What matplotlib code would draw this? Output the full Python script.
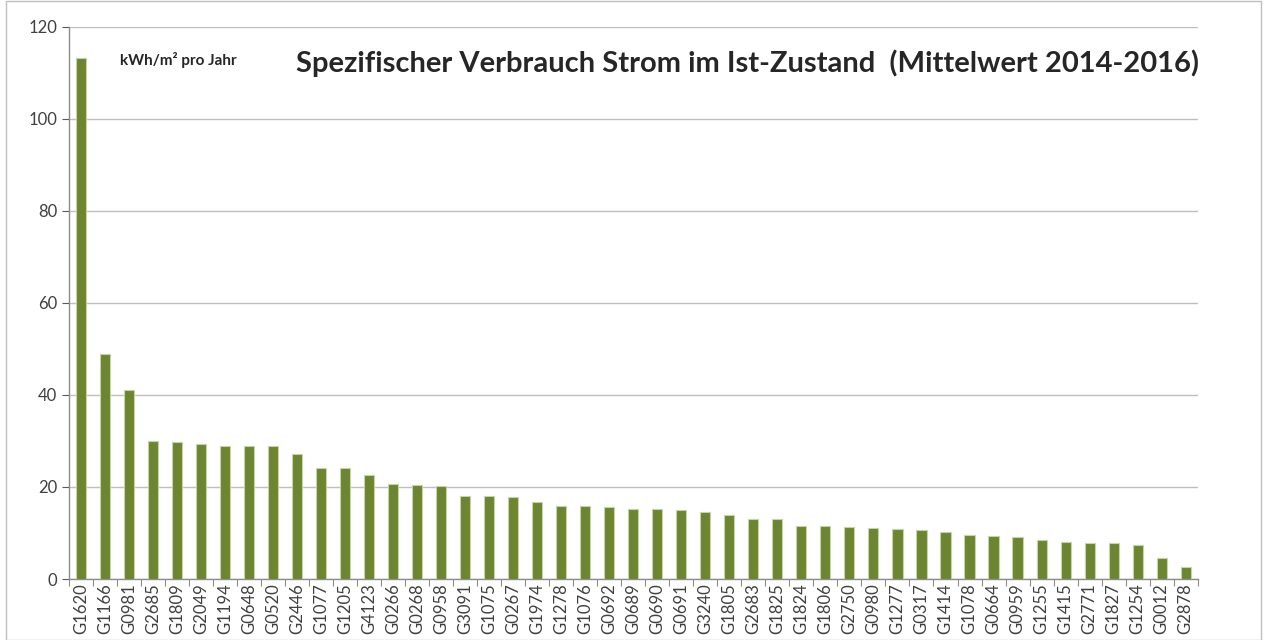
import numpy as np
import matplotlib.pyplot as plt

# building codes and mean specific electricity use (kWh/m2 per year)
codes = ["G1620", "G1166", "G0981", "G2685", "G1809", "G2049", "G1194", "G0648",
         "G0520", "G2446", "G1077", "G1205", "G4123", "G0266", "G0268", "G0958",
         "G3091", "G1075", "G0267", "G1974", "G1278", "G1076", "G0692", "G0689",
         "G0690", "G0691", "G3240", "G1805", "G2683", "G1825", "G1824", "G1806",
         "G2750", "G0980", "G1277", "G0317", "G1414", "G1078", "G0664", "G0959",
         "G1255", "G1415", "G2771", "G1827", "G1254", "G0012", "G2878"]
verbrauch = [113.3, 49.0, 41.0, 30.1, 29.7, 29.3, 29.0, 29.0,
             28.8, 27.1, 24.2, 24.2, 22.6, 20.6, 20.4, 20.2,
             18.0, 18.0, 17.8, 16.7, 15.9, 15.8, 15.6, 15.3,
             15.3, 15.0, 14.6, 13.9, 13.0, 13.0, 11.6, 11.6,
             11.4, 11.1, 10.8, 10.6, 10.2, 9.6, 9.4, 9.2,
             8.5, 8.1, 7.9, 7.9, 7.4, 4.6, 2.7]
yticks = [0, 20, 40, 60, 80, 100, 120]

plt.rcParams['font.family'] = ['Lato', 'DejaVu Sans']

fig = plt.figure(figsize=(12.66, 6.4), dpi=100)
ax = fig.add_axes([0.0545, 0.0953, 0.8915, 0.8627])

x = np.arange(len(codes))
ax.bar(x, verbrauch, width=0.42, color='#6B8530', edgecolor='#C5D3A8',
       linewidth=0.8, zorder=3)

ax.set_xlim(-0.5, len(codes) - 0.5)
ax.set_ylim(0, 120)
ax.set_yticks(yticks)
ax.tick_params(axis='y', labelsize=12, colors='#595959', labelcolor='#404040',
               length=5, width=0.8)
ax.set_xticks(x)
ax.set_xticklabels(codes, rotation=90, fontsize=12, color='#404040')
ax.tick_params(axis='x', length=0, pad=3)
ax.set_xticks(np.arange(-0.5, len(codes), 1), minor=True)
ax.tick_params(axis='x', which='minor', length=5, width=0.8, colors='#8C8C8C')

ax.grid(axis='y', color='#BFBFBF', linewidth=1, zorder=0)
for s in ['top', 'right']:
    ax.spines[s].set_visible(False)
for s in ['left', 'bottom']:
    ax.spines[s].set_color('#8C8C8C')
    ax.spines[s].set_linewidth(1)

fig.text(0.095, 0.899, "kWh/m² pro Jahr", fontsize=11, fontweight='bold',
         color='#262626')
fig.text(0.947, 0.888, "Spezifischer Verbrauch Strom im Ist-Zustand  (Mittelwert 2014-2016)",
         fontsize=21, fontweight='bold', color='#262626', ha='right')

# light frame around the chart area
fig.add_artist(plt.Rectangle((0.005, 0.0), 0.991, 0.998, transform=fig.transFigure,
                             fill=False, edgecolor='#BFBFBF', linewidth=1))

plt.savefig("out.png", dpi=100)
